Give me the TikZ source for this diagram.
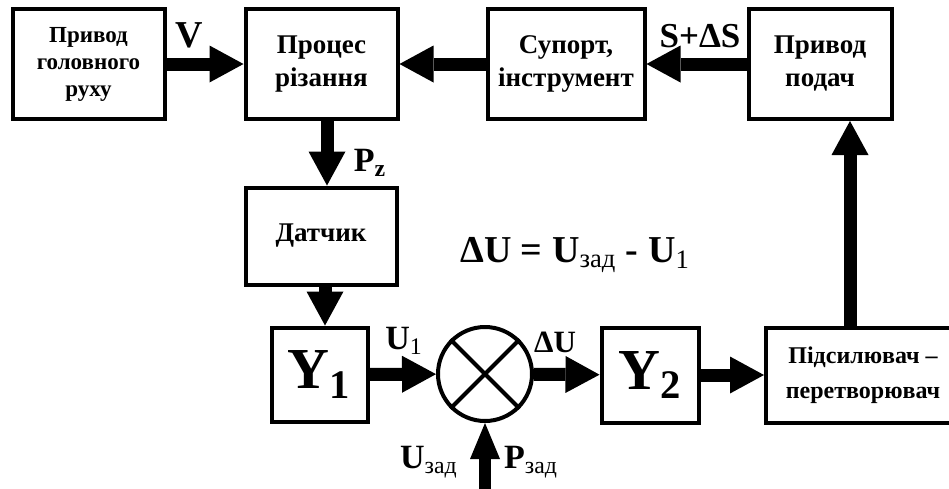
\documentclass[tikz,border=0pt]{standalone}
\usepackage{fontspec}
\setmainfont{Liberation Serif}
\usetikzlibrary{arrows.meta,positioning,calc}
\newcommand{\sbs}[1]{\textsubscript{\mdseries #1}}
\tikzset{
  blk/.style={draw, line width=2pt, align=center, inner sep=0pt,
              font=\bfseries\fontsize{13.5}{16.5}\selectfont},
  bigblk/.style={blk, font=\bfseries\fontsize{29}{30}\selectfont},
  bigarr/.style={-{Triangle[length=17pt,width=18.5pt,line width=0pt]}, line width=6.5pt},
  smallarr/.style={-{Triangle[length=18pt,width=15pt,line width=0pt]}, line width=6pt},
  lbl/.style={font=\bfseries\fontsize{17}{20}\selectfont, inner sep=0pt},
}
\begin{document}
\begin{tikzpicture}[x=0.5pt,y=-0.5pt]
  \useasboundingbox (0,0) rectangle (949,488);
  \clip (0,0) rectangle (949,488);
  % top row
  \node[blk, minimum width=76pt, minimum height=55pt, font=\bfseries\fontsize{11.5}{13.5}\selectfont] (drive) at (88.5,64) {Привод\\головного\\руху};
  \node[blk, minimum width=76pt, minimum height=55pt] (cut) at (321.5,64) {Процес\\різання};
  \node[blk, minimum width=78.5pt, minimum height=55pt] (tool) at (566,64) {Супорт,\\інструмент};
  \node[blk, minimum width=71.5pt, minimum height=55pt] (feed) at (820,64) {Привод\\подач};
  % lower part
  \node[blk, minimum width=75.5pt, minimum height=48.5pt] (sensor) at (321,236) {Датчик};
  \node[bigblk, minimum width=48pt, minimum height=47pt] (yone) at (319.5,374.5) {Y\textsubscript{1}};
  \node[draw, circle, line width=2pt, minimum size=47pt, inner sep=0pt] (sum) at (485,374) {};
  \draw[line width=2pt] (sum.north east) -- (sum.south west) (sum.north west) -- (sum.south east);
  \node[bigblk, minimum width=48.5pt, minimum height=47.5pt] (ytwo) at (650,375) {Y\textsubscript{2}};
  \node[blk, minimum width=97pt, minimum height=47.5pt, font=\bfseries\fontsize{12}{17.5}\selectfont] (amp) at (863,375) {Підсилювач --\\перетворювач};
  \coordinate (setp) at (485,490);
  % connectors
  \draw[bigarr] (drive) -- (cut);
  \draw[bigarr] (tool) -- (cut);
  \draw[bigarr] (feed) -- (tool);
  \draw[bigarr] (cut.south -| 327,0) -- (sensor.north -| 327,0);
  \draw[bigarr] (sensor.south -| 325,0) -- (yone.north -| 325,0);
  \draw[bigarr] (yone) -- (sum);
  \draw[bigarr] (sum) -- (ytwo);
  \draw[bigarr] (ytwo) -- (amp);
  \draw[bigarr] (amp.north -| 850,0) -- (feed.south -| 850,0);
  \draw[smallarr] (setp) -- (sum.south);
  % labels
  \node[lbl, font=\bfseries\fontsize{19}{22}\selectfont] (vlbl) at (189,35) {V};
  \node[lbl, font=\bfseries\fontsize{17.5}{20}\selectfont] (slbl) at (700,36) {S+ΔS};
  \node[lbl] (plbl) at (370,163) {P\textsubscript{z}};
  \node[lbl, font=\bfseries\fontsize{19}{22}\selectfont] (eqn) at (575,255) {ΔU = U\sbs{зад} - U\sbs{1}};
  \node[lbl] (ulbl) at (404,341) {U\sbs{1}};
  \node[lbl, font=\bfseries\fontsize{15.5}{18}\selectfont] (dulbl) at (555,342) {ΔU};
  \node[lbl] (uset) at (429,462) {U\sbs{зад}};
  \node[lbl] (pset) at (531,462) {P\sbs{зад}};
\end{tikzpicture}
\end{document}
